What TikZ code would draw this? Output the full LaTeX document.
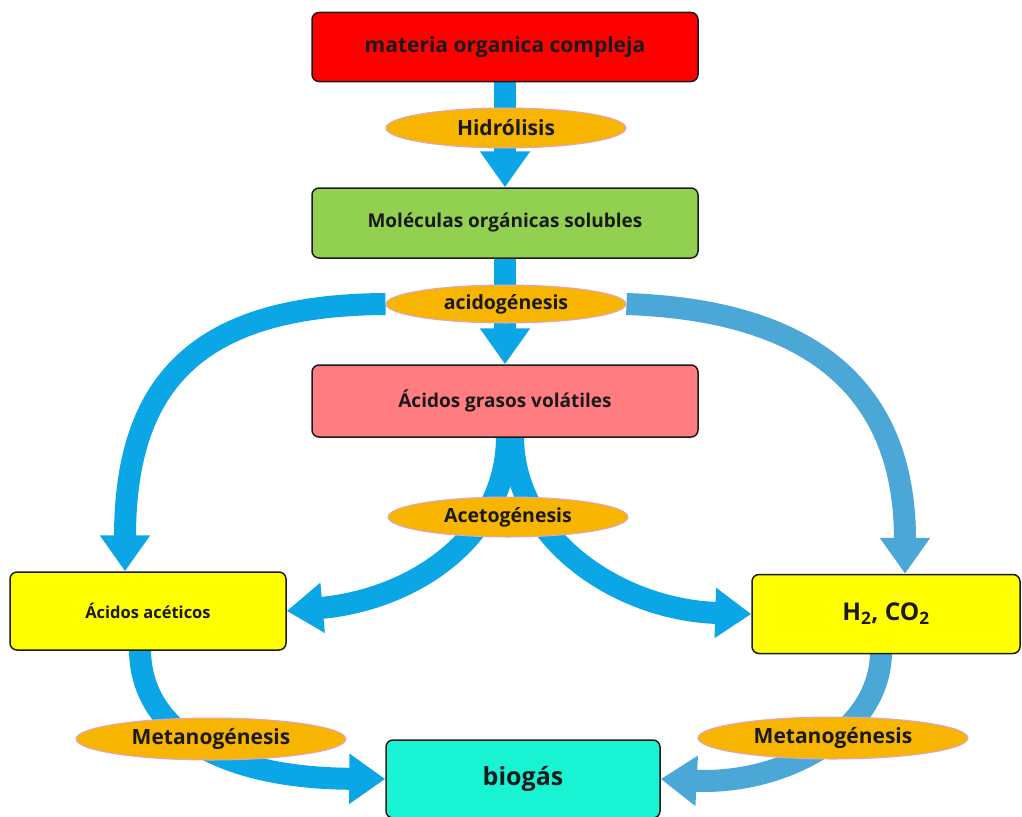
\documentclass[tikz,border=0pt]{standalone}
\usepackage{fontspec}
\setmainfont{Open Sans}
\definecolor{boxred}{HTML}{FF0000}
\definecolor{boxgreen}{HTML}{92D050}
\definecolor{boxpink}{HTML}{FF7C80}
\definecolor{boxyellow}{HTML}{FFFF00}
\definecolor{boxteal}{HTML}{17F3D3}
\definecolor{phasefill}{HTML}{F7B500}
\definecolor{phaseline}{HTML}{D9A6D3}
\definecolor{flowblue}{HTML}{0BA6E6}
\definecolor{flowsteel}{HTML}{4BA7D6}
\definecolor{darktext}{HTML}{1A1A1A}
\usetikzlibrary{shapes.geometric, arrows.meta, backgrounds, calc}

\begin{document}
\begin{tikzpicture}[x=1pt, y=-1pt,
    box/.style   = {rectangle, rounded corners=7pt, draw=darktext, line width=1.5pt,
                    inner sep=0pt, align=center, text=darktext},
    phase/.style = {ellipse, draw=phaseline, line width=1pt, fill=phasefill,
                    minimum width=240pt, minimum height=40pt, inner sep=0pt,
                    font=\fontsize{19.5}{22}\selectfont\bfseries, text=darktext},
    arr/.style   = {-{Triangle[width=48pt,length=36pt]}, line width=22pt, color=flowblue},
    arrsteel/.style = {arr, color=flowsteel},
  ]
    \useasboundingbox (0,0) rectangle (1022,816);

    % ── Main column ──────────────────────────────────────────
    \node[box, fill=boxred, minimum width=386pt, minimum height=69pt,
          font=\fontsize{21}{24}\selectfont\bfseries] (mat) at (505,47) {materia organica compleja};
    \node[box, fill=boxgreen, minimum width=386pt, minimum height=70pt,
          font=\fontsize{19}{22}\selectfont\bfseries] (mol) at (505,223) {Moléculas orgánicas solubles};
    \node[box, fill=boxpink, minimum width=386pt, minimum height=72pt,
          font=\fontsize{19}{22}\selectfont\bfseries] (agv) at (505,401) {Ácidos grasos volátiles};

    % ── Side boxes ───────────────────────────────────────────
    \node[box, fill=boxyellow, minimum width=276pt, minimum height=78pt,
          font=\fontsize{16.5}{20}\selectfont\bfseries] (ace) at (148,611) {Ácidos acéticos};
    \node[box, fill=boxyellow, minimum width=268pt, minimum height=79pt,
          font=\fontsize{24.5}{28}\selectfont\bfseries] (gas) at (886,614) {H\textsubscript{2}, CO\textsubscript{2}};
    \node[box, fill=boxteal, minimum width=274pt, minimum height=78pt,
          font=\fontsize{25}{28}\selectfont\bfseries] (bio) at (523,779) {biogás};

    % ── Phases ───────────────────────────────────────────────
    \node[phase, font=\fontsize{21}{24}\selectfont\bfseries] (hid) at (506,128) {Hidrólisis};
    \node[phase, minimum height=38pt] (acid) at (506,304) {acidogénesis};
    \node[phase] (acet) at (508,517) {Acetogénesis};
    \node[phase, minimum width=270pt, minimum height=42pt,
          font=\fontsize{21}{24}\selectfont\bfseries] (met1) at (211,739) {Metanogénesis};
    \node[phase, minimum width=270pt, minimum height=42pt,
          font=\fontsize{21}{24}\selectfont\bfseries] (met2) at (833,738) {Metanogénesis};

    % ── Flows ────────────────────────────────────────────────
    \begin{scope}[on background layer]
      \draw[arr] (mat.south) -- (mol.north);
      \draw[arr] (mol.south) -- (agv.north);
      \draw[arr] (acid.west) .. controls (200,305) and (125,380) .. ($(ace.north)+(-23,0)$);
      \draw[arrsteel] (acid.east) .. controls (800,310) and (905,380) .. ($(gas.north)+(19,0)$);
      \draw[arr] ($(agv.south)+(2,-2)$) .. controls (507,540) and (410,600) .. (ace.east);
      \draw[arr] ($(agv.south)+(8,-2)$) .. controls (513,540) and (620,610) .. (gas.west);
      \draw[arr] ($(ace.south)+(-8,-2)$) .. controls (140,730) and (220,778) .. (bio.west);
      \draw[arrsteel] ($(gas.south)+(-5,-2)$) .. controls (880,735) and (780,785) .. (bio.east);
    \end{scope}
  \end{tikzpicture}
\end{document}
